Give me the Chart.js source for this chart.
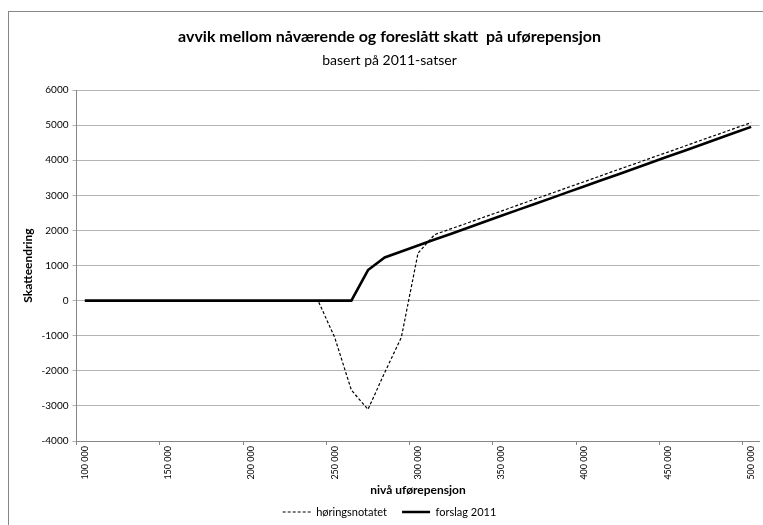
<!DOCTYPE html>
<html>
<head>
<meta charset="utf-8">
<script src="https://cdn.jsdelivr.net/npm/chart.js@4.4.1/dist/chart.umd.min.js"></script>
<style>
  html, body { margin: 0; padding: 0; background: #ffffff; }
  #wrap { width: 763px; height: 525px; position: relative; }
</style>
</head>
<body>
<div id="wrap"><canvas id="chart" width="763" height="525"></canvas></div>
<script>
// Texts
const titleText = 'avvik mellom nåværende og foreslått skatt  på uførepensjon';
const subtitleText = 'basert på 2011-satser';
const xAxisTitle = 'nivå uførepensjon';
const yAxisTitle = 'Skatteendring';

// Pension level (NOK) for each point
const categories = [
  100000, 110000, 120000, 130000, 140000, 150000, 160000, 170000, 180000, 190000,
  200000, 210000, 220000, 230000, 240000, 250000, 260000, 270000, 280000, 290000,
  300000, 310000, 320000, 330000, 340000, 350000, 360000, 370000, 380000, 390000,
  400000, 410000, 420000, 430000, 440000, 450000, 460000, 470000, 480000, 490000,
  500000
];

// Tax change, consultation paper
const horingsnotatet = [
  0, 0, 0, 0, 0, 0, 0, 0, 0, 0,
  0, 0, 0, 0, 0, -1050, -2550, -3100, -2050, -1050,
  1350, 1880, 2050, 2215, 2385, 2550, 2720, 2890, 3055, 3225,
  3390, 3560, 3730, 3895, 4065, 4230, 4400, 4570, 4735, 4905,
  5070
];

// Tax change, 2011 proposal
const forslag2011 = [
  0, 0, 0, 0, 0, 0, 0, 0, 0, 0,
  0, 0, 0, 0, 0, 0, 0, 870, 1230, 1400,
  1570, 1740, 1905, 2075, 2245, 2415, 2585, 2750, 2920, 3090,
  3260, 3430, 3595, 3765, 3935, 4105, 4270, 4440, 4610, 4780,
  4950
];

// Labelled x ticks (every fifth point)
const xTickLabels = ['100 000', '150 000', '200 000', '250 000', '300 000',
                     '350 000', '400 000', '450 000', '500 000'];

const yMin = -4000, yMax = 6000, yStep = 1000;

const FONT = 'Lato, "Open Sans", sans-serif';
const AXIS_GREY = '#868686';
const GRID_GREY = '#b4b4b4';

// Thin grey frame around the whole chart area
const framePlugin = {
  id: 'frame',
  beforeDraw(chart) {
    const ctx = chart.ctx;
    ctx.save();
    ctx.fillStyle = '#ffffff';
    ctx.fillRect(0, 0, chart.width, chart.height);
    ctx.strokeStyle = AXIS_GREY;
    ctx.lineWidth = 1;
    ctx.strokeRect(8.5, 11.5, 900, 700);
    ctx.restore();
  }
};

new Chart(document.getElementById('chart'), {
  type: 'line',
  data: {
    labels: categories,
    datasets: [
      {
        label: 'høringsnotatet',
        data: horingsnotatet,
        borderColor: '#000000',
        backgroundColor: '#000000',
        borderWidth: 1.2,
        borderDash: [3, 2],
        pointRadius: 0,
        pointStyle: 'line',
        tension: 0,
        fill: false
      },
      {
        label: 'forslag 2011',
        data: forslag2011,
        borderColor: '#000000',
        backgroundColor: '#000000',
        borderWidth: 2.6,
        pointRadius: 0,
        pointStyle: 'line',
        tension: 0,
        fill: false
      }
    ]
  },
  options: {
    responsive: false,
    animation: false,
    events: [],
    layout: { padding: { top: 0, left: 19, right: 3, bottom: -2.5 } },
    plugins: {
      title: {
        display: true,
        text: titleText,
        color: '#000000',
        font: { family: FONT, size: 16, weight: 'bold' },
        padding: { top: 27.4, bottom: 3 }
      },
      subtitle: {
        display: true,
        text: subtitleText,
        color: '#000000',
        font: { family: FONT, size: 14, weight: 'normal' },
        padding: { top: 2, bottom: 21.6 }
      },
      legend: {
        position: 'bottom',
        labels: {
          usePointStyle: true,
          pointStyleWidth: 28,
          boxHeight: 11,
          color: '#000000',
          font: { family: FONT, size: 11 },
          padding: 15,
          // keep each series' own line width and dash in the legend sample
          generateLabels: (chart) =>
            Chart.defaults.plugins.legend.labels.generateLabels(chart).map((item) => {
              const ds = chart.data.datasets[item.datasetIndex];
              return Object.assign(item, {
                lineDash: ds.borderDash || [],
                lineWidth: ds.borderWidth
              });
            })
        }
      },
      tooltip: { enabled: false }
    },
    scales: {
      x: {
        type: 'category',
        offset: true,
        grid: {
          offset: true,
          drawOnChartArea: false,
          drawTicks: true,
          tickLength: 4,
          color: (c) => (c.index % 5 === 0 ? AXIS_GREY : 'rgba(0,0,0,0)')
        },
        border: { color: AXIS_GREY },
        ticks: {
          autoSkip: false,
          minRotation: 90,
          maxRotation: 90,
          padding: 1,
          color: '#000000',
          font: { family: FONT, size: 9 },
          callback: (v, i) => (i % 5 === 0 ? xTickLabels[i / 5] : '')
        },
        title: {
          display: true,
          text: xAxisTitle,
          color: '#000000',
          font: { family: FONT, size: 12, weight: 'bold' },
          padding: { top: 0, bottom: -6 }
        },
        afterFit: (s) => { s.height = 50.5; }
      },
      y: {
        min: yMin,
        max: yMax,
        ticks: {
          stepSize: yStep,
          padding: 4,
          color: '#000000',
          font: { family: FONT, size: 10 },
          callback: (v) => String(v)
        },
        grid: { color: GRID_GREY, tickLength: 4 },
        border: { color: AXIS_GREY },
        title: {
          display: true,
          text: yAxisTitle,
          color: '#000000',
          font: { family: FONT, size: 12, weight: 'bold' },
          padding: { top: 2, bottom: 2 }
        },
        afterFit: (s) => { s.width = 57.5; }
      }
    }
  },
  plugins: [framePlugin]
});
</script>
</body>
</html>
